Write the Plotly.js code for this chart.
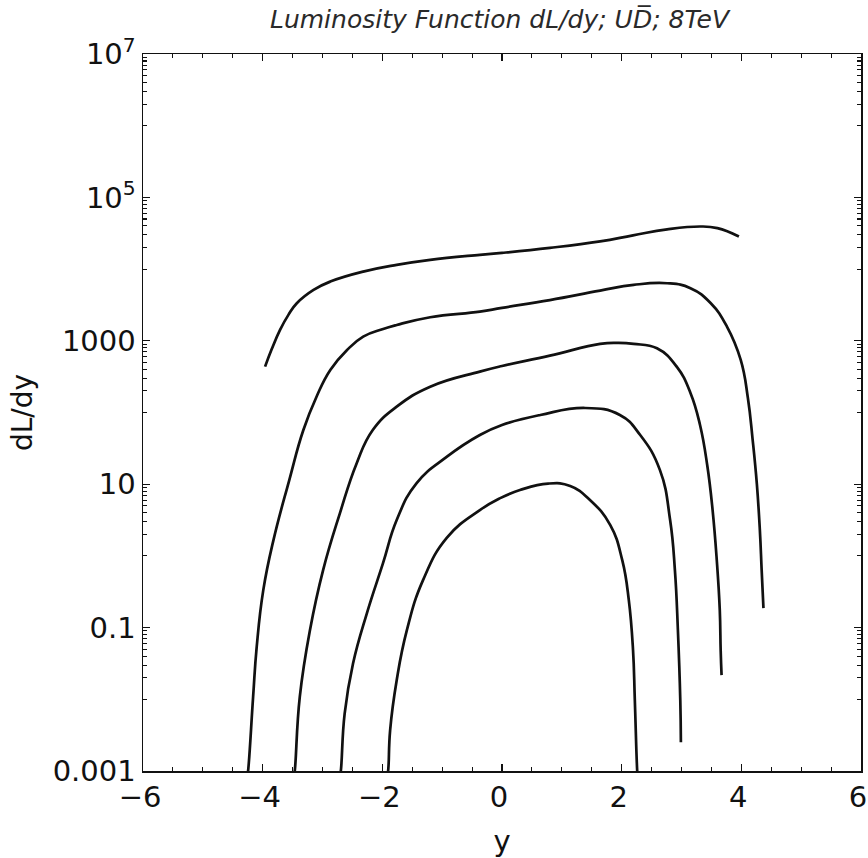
<!DOCTYPE html>
<html>
<head>
<meta charset="utf-8">
<script src="https://cdn.plot.ly/plotly-3.0.1.min.js"></script>
<style>html,body{margin:0;padding:0;background:#fff;}#chart{width:868px;height:858px;}</style>
</head>
<body>
<div id="chart"></div>
<script>
// Curve 1 (top)
const x1 = [-3.96, -3.85, -3.71, -3.57, -3.43, -3.15, -2.87, -2.32, -1.76, -1.20, -0.37, 0.0, 0.80, 1.64, 2.19, 2.76, 3.32, 3.60, 3.96];
const y1 = [436, 760, 1419, 2300, 3342, 5129, 6699, 9226, 11460, 13460, 15810, 16830, 19770, 24380, 29580, 35810, 39260, 37240, 28440];
// Curve 2
const x2 = [-4.26, -4.24, -4.16, -4.10, -3.99, -3.82, -3.56, -3.32, -3.10, -2.87, -2.59, -2.32, -2.00, -1.76, -1.20, -0.37, 0.0, 0.80, 1.64, 2.20, 2.76, 3.15, 3.49, 3.76, 3.99, 4.11, 4.19, 4.26, 4.31, 4.34, 4.37];
const y2 = [0.00079, 0.00108, 0.0108, 0.0538, 0.333, 1.66, 11.07, 57.0, 166, 392, 745, 1143, 1450, 1663, 2133, 2553, 2884, 3700, 5012, 6026, 6353, 5420, 3342, 1578, 541, 159, 41.3, 10.0, 2.29, 0.634, 0.187];
// Curve 3
const x3 = [-3.48, -3.46, -3.38, -3.21, -2.99, -2.71, -2.43, -2.16, -1.76, -1.20, -0.37, 0.0, 0.80, 1.64, 1.95, 2.20, 2.59, 2.92, 3.15, 3.31, 3.43, 3.52, 3.59, 3.64, 3.655, 3.67];
const y3 = [0.00079, 0.00108, 0.0108, 0.092, 0.634, 3.92, 19.5, 57.0, 120.5, 229, 372, 446, 620, 904, 933, 904, 787, 436, 187.5, 67.0, 18.5, 4.36, 0.873, 0.175, 0.0484, 0.0217];
// Curve 4
const x4 = [-2.71, -2.69, -2.63, -2.49, -2.26, -1.99, -1.76, -1.43, -0.92, -0.37, 0.0, 0.64, 1.39, 1.97, 2.31, 2.64, 2.81, 2.89, 2.94, 2.98, 2.99];
const y4 = [0.00079, 0.00108, 0.00632, 0.0316, 0.157, 0.785, 3.16, 10.28, 24.2, 48.5, 67.0, 92.3, 115.6, 92.3, 48.5, 15.7, 3.16, 0.632, 0.092, 0.0097, 0.00251];
// Curve 5 (bottom)
const x5 = [-1.92, -1.90, -1.87, -1.76, -1.59, -1.32, -0.92, -0.37, -0.03, 0.30, 0.77, 1.14, 1.47, 1.81, 2.01, 2.12, 2.19, 2.22, 2.26, 2.27];
const y5 = [0.00079, 0.00108, 0.0037, 0.01845, 0.092, 0.459, 1.80, 4.355, 6.40, 8.28, 10.2, 9.44, 6.03, 2.69, 0.871, 0.240, 0.049, 0.00977, 0.001, 0.00079];

const xTickVals = [-6, -4, -2, 0, 2, 4, 6];
const xTickText = ["\u22126", "\u22124", "\u22122", "0", "2", "4", "6"];
const yTickVals = [0.001, 0.1, 10, 1000, 1e5, 1e7];
const yTickText = ["0.001", "0.1", "10", "1000", "10<sup>5</sup>", "10<sup>7</sup>"];
const yMinorVals = [
  0.01, 0.02, 0.03, 0.04, 0.05, 0.06, 0.07, 0.08, 0.09,
  1, 2, 3, 4, 5, 6, 7, 8, 9,
  100, 200, 300, 400, 500, 600, 700, 800, 900,
  10000, 20000, 30000, 40000, 50000, 60000, 70000, 80000, 90000,
  1e6, 2e6, 3e6, 4e6, 5e6, 6e6, 7e6, 8e6, 9e6
];

const xs = [x1, x2, x3, x4, x5];
const ys = [y1, y2, y3, y4, y5];
const traces = xs.map((xv, i) => ({
  x: xv, y: ys[i], type: 'scatter', mode: 'lines',
  line: {color: '#111111', width: 2.7, shape: 'spline', smoothing: 1.3, simplify: false},
  hoverinfo: 'skip', showlegend: false
}));

const font = {family: 'DejaVu Sans, sans-serif', color: '#111111'};
const layout = {
  width: 868, height: 858,
  margin: {l: 143, r: 7, t: 54, b: 87},
  paper_bgcolor: '#ffffff', plot_bgcolor: '#ffffff',
  showlegend: false,
  title: {text: 'Luminosity Function dL/dy; UD\u0305; 8TeV', x: 0.5755, xanchor: 'center', y: 0.977, yanchor: 'middle',
          font: {family: 'DejaVu Sans, sans-serif', size: 25, style: 'italic', color: '#2a2a2a'}},
  xaxis: {
    range: [-6.0005, 6.0005], showgrid: false, zeroline: false,
    showline: true, linecolor: '#111', linewidth: 1.5, mirror: 'ticks',
    ticks: 'inside', ticklen: 7, tickwidth: 1.3, tickcolor: '#111',
    tickmode: 'array', tickvals: xTickVals, ticktext: xTickText,
    ticklabeloverflow: 'allow', ticklabelshift: -3,
    tickfont: Object.assign({size: 29}, font),
    minor: {dtick: 0.5, tick0: 0, ticks: 'inside', ticklen: 4, tickwidth: 1.1, tickcolor: '#111', showgrid: false},
    title: {text: 'y', font: Object.assign({size: 29}, font), standoff: 18}
  },
  yaxis: {
    type: 'log', range: [-3, 7], showgrid: false, zeroline: false,
    showline: true, linecolor: '#111', linewidth: 1.5, mirror: 'ticks',
    ticks: 'inside', ticklen: 7, tickwidth: 1.3, tickcolor: '#111',
    tickmode: 'array', tickvals: yTickVals, ticktext: yTickText,
    tickfont: Object.assign({size: 29}, font),
    minor: {tickmode: 'array', tickvals: yMinorVals, ticks: 'inside', ticklen: 4, tickwidth: 1.1, tickcolor: '#111', showgrid: false},
    title: {text: 'dL/dy', font: Object.assign({size: 28}, font), standoff: 12}
  }
};
Plotly.newPlot('chart', traces, layout, {staticPlot: true, displayModeBar: false});
</script>
</body>
</html>
